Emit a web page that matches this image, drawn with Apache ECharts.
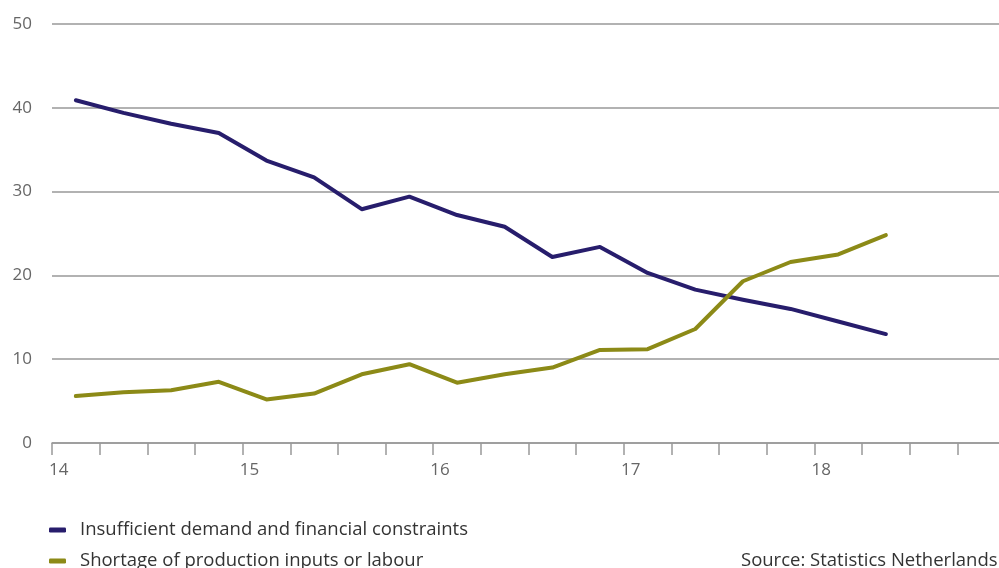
<!DOCTYPE html>
<html>
<head>
<meta charset="utf-8">
<script src="https://cdn.jsdelivr.net/npm/echarts@6/dist/echarts.min.js"></script>
<style>html,body{margin:0;padding:0;background:#fff}#c{width:999px;height:568px}</style>
</head>
<body>
<div id="c"></div>
<script>
var quarters = ['2014Q1','2014Q2','2014Q3','2014Q4','2015Q1','2015Q2','2015Q3','2015Q4','2016Q1','2016Q2','2016Q3','2016Q4','2017Q1','2017Q2','2017Q3','2017Q4','2018Q1','2018Q2','2018Q3','2018Q4'];
var yearLabels = ['14','15','16','17','18'];
var demand = [40.9, 39.4, 38.1, 37.0, 33.7, 31.7, 27.9, 29.4, 27.2, 25.8, 22.2, 23.4, 20.3, 18.3, 17.1, 16.0, 14.5, 13.0];
var shortage = [5.6, 6.05, 6.3, 7.3, 5.2, 5.9, 8.2, 9.4, 7.2, 8.2, 9.0, 11.1, 11.2, 13.6, 19.3, 21.6, 22.5, 24.8];
var yTicks = [0, 10, 20, 30, 40, 50];
var names = ['Insufficient demand and financial constraints', 'Shortage of production inputs or labour'];

var FONT = 'Open Sans';
var legendBase = {
  orient: 'horizontal', left: 49,
  itemWidth: 17, itemHeight: 5, icon: 'roundRect', padding: 0,
  textStyle: {color: '#333', fontSize: 18.5, fontFamily: FONT, lineHeight: 22, padding: [0, 0, 0, 9]}
};
var chart = echarts.init(document.getElementById('c'));
chart.setOption({
  animation: false,
  grid: {left: 52, top: 24, width: 953, height: 419, containLabel: false, outerBoundsMode: 'none'},
  xAxis: {
    type: 'category',
    data: quarters,
    boundaryGap: true,
    axisLine: {show: true, lineStyle: {color: '#999', width: 1.5}},
    axisTick: {show: true, interval: 0, alignWithLabel: false, length: 12, lineStyle: {color: '#999', width: 1.5}},
    axisLabel: {
      interval: function (i) { return i % 4 === 0; },
      formatter: function (v, i) { return yearLabels[Math.floor(i / 4)]; },
      color: '#666', fontSize: 17, fontFamily: FONT, margin: 19,
      padding: [0, 34, 0, 0]
    },
    splitLine: {show: false}
  },
  yAxis: {
    type: 'value', min: 0, max: 50, interval: 10,
    axisLine: {show: false}, axisTick: {show: false},
    axisLabel: {color: '#666', fontSize: 17, fontFamily: FONT, margin: 20,
      formatter: function (v) { return yTicks.indexOf(v) >= 0 ? String(v) : ''; }},
    splitLine: {lineStyle: {color: '#999', width: 1.5}}
  },
  legend: [
    Object.assign({}, legendBase, {top: 519, data: [names[0]]}),
    Object.assign({}, legendBase, {top: 550, data: [names[1]]})
  ],
  series: [
    {name: names[0], type: 'line', data: demand,
      symbol: 'none', lineStyle: {color: '#271d6c', width: 4, cap: 'round', join: 'round'}, itemStyle: {color: '#271d6c'}},
    {name: names[1], type: 'line', data: shortage,
      symbol: 'none', lineStyle: {color: '#8c8a17', width: 4, cap: 'round', join: 'round'}, itemStyle: {color: '#8c8a17'}}
  ],
  graphic: [{
    type: 'text', left: 741, top: 550,
    style: {text: 'Source: Statistics Netherlands', fill: '#333', font: '18.5px "Open Sans"', lineHeight: 22}
  }]
});
</script>
</body>
</html>
